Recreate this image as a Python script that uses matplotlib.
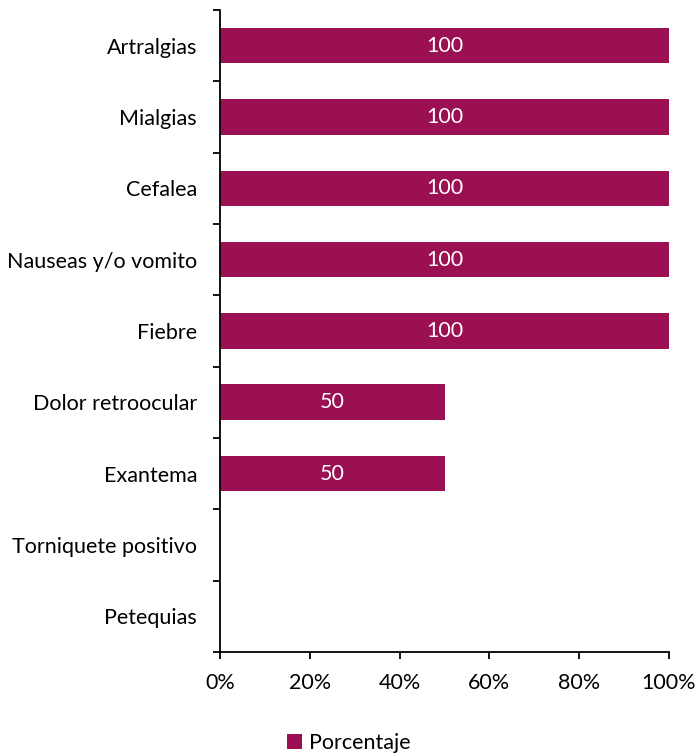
import matplotlib
matplotlib.use("Agg")
import matplotlib.pyplot as plt
import numpy as np

categories = ["Artralgias", "Mialgias", "Cefalea", "Nauseas y/o vomito", "Fiebre",
              "Dolor retroocular", "Exantema", "Torniquete positivo", "Petequias"]
values = [100, 100, 100, 100, 100, 50, 50, 0, 0]
xticks = [0, 20, 40, 60, 80, 100]
series_name = "Porcentaje"
color = "#9B1053"

plt.rcParams['font.family'] = ['Lato', 'DejaVu Sans']
fs = 15.5
fig = plt.figure(figsize=(6.99, 7.56), dpi=100)
ax = fig.add_axes([220/699, 1-652/756, (669-220)/699, (652-10)/756])

y = np.arange(len(categories))
bars = ax.barh(y, values, height=0.5, color=color, label=series_name)
for yi, v in zip(y, values):
    if v > 0:
        ax.text(v/2, yi, f"{v}", color="white", ha="center", va="center", fontsize=fs)

ax.set_ylim(len(categories)-0.5, -0.5)
ax.set_xlim(0, 100)
ax.set_yticks(y)
ax.set_yticklabels(categories, fontsize=fs)
ax.set_yticks(np.arange(-0.5, len(categories)), minor=True)
ax.tick_params(axis='y', which='major', length=0, pad=16.5)
ax.tick_params(axis='y', which='minor', length=5, width=1.3, direction='out')
ax.set_xticks(xticks)
ax.set_xticklabels([f"{t}%" for t in xticks], fontsize=fs)
ax.tick_params(axis='x', length=5, width=1.3, direction='out', pad=10)
for s in ['top', 'right']:
    ax.spines[s].set_visible(False)
for s in ['left', 'bottom']:
    ax.spines[s].set_linewidth(1.3)

fig.legend(handles=[bars], labels=[series_name], loc='center', bbox_to_anchor=(349/699, 1-743/756),
           frameon=False, fontsize=fs, handlelength=0.7, handleheight=0.7, handletextpad=0.3)
fig.savefig("out.png", dpi=100)
